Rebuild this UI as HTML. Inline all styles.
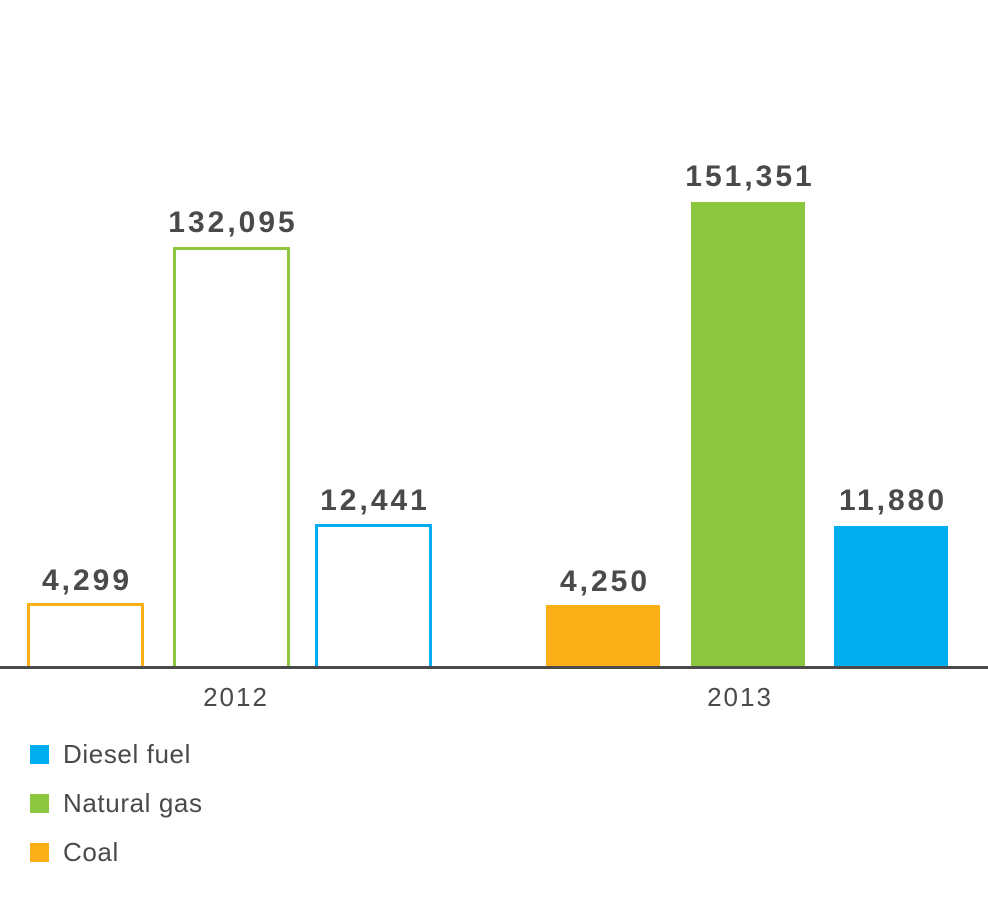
<!DOCTYPE html><html><head><style>
body{margin:0;width:988px;height:908px;background:#fff;position:relative;overflow:hidden;font-family:"Liberation Sans",sans-serif;color:#4a4a4a}
.b{position:absolute;box-sizing:border-box}
.o{border:3px solid;border-bottom:none}
.l{position:absolute;width:200px;text-align:center;font-weight:bold;font-size:30px;letter-spacing:3px}
.y{position:absolute;width:160px;text-align:center;font-size:26px;letter-spacing:2px}
.lg{position:absolute;left:30px;width:19px;height:19px}
.lt{position:absolute;left:63px;font-size:26px;letter-spacing:0.6px}
</style></head><body>
<div class="b o" style="left:27px;top:603px;width:117px;height:64px;border-color:#fbaf17"></div>
<div class="b o" style="left:173px;top:247px;width:117px;height:420px;border-color:#8dc63f"></div>
<div class="b o" style="left:315px;top:524px;width:117px;height:143px;border-color:#00aeef"></div>
<div class="b" style="left:546px;top:605px;width:114px;height:62px;background:#fbaf17"></div>
<div class="b" style="left:691px;top:202px;width:114px;height:465px;background:#8dc63f"></div>
<div class="b" style="left:834px;top:526px;width:114px;height:141px;background:#00aeef"></div>
<div class="b" style="left:0;top:666px;width:988px;height:3px;background:#4a4a4a"></div>
<div class="l" style="left:-13px;top:564px">4,299</div>
<div class="l" style="left:133px;top:206px">132,095</div>
<div class="l" style="left:275px;top:484px">12,441</div>
<div class="l" style="left:505px;top:565px">4,250</div>
<div class="l" style="left:650px;top:160px">151,351</div>
<div class="l" style="left:793px;top:484px">11,880</div>
<div class="y" style="left:156px;top:682px">2012</div>
<div class="y" style="left:660px;top:682px">2013</div>
<div class="lg" style="top:745px;background:#00aeef"></div><div class="lt" style="top:739px">Diesel fuel</div>
<div class="lg" style="top:794px;background:#8dc63f"></div><div class="lt" style="top:788px">Natural gas</div>
<div class="lg" style="top:843px;background:#fbaf17"></div><div class="lt" style="top:837px">Coal</div>
</body></html>
